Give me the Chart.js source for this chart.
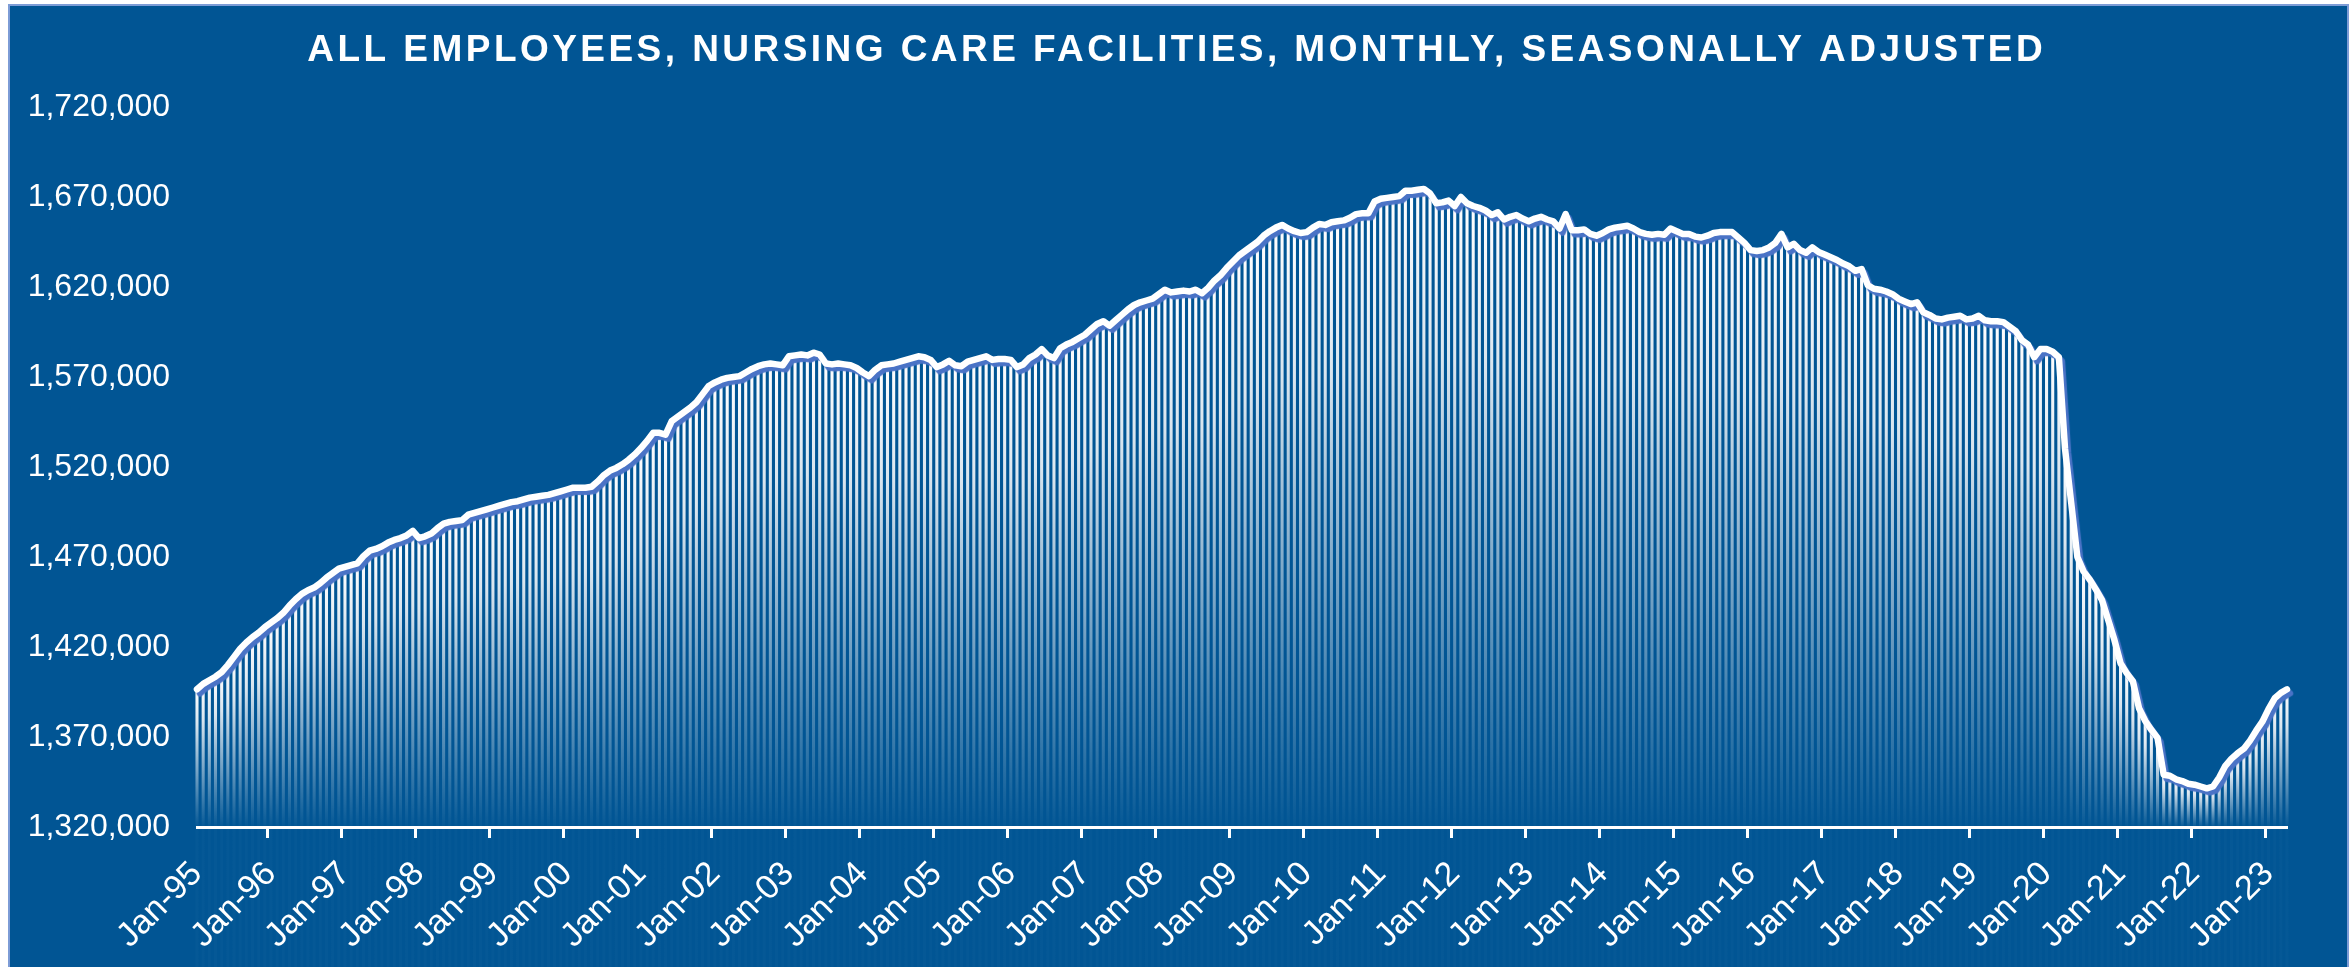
<!DOCTYPE html>
<html>
<head>
<meta charset="utf-8">
<script src="https://cdn.jsdelivr.net/npm/chart.js@4.4.0/dist/chart.umd.min.js"></script>
<style>
html,body{margin:0;padding:0;background:#ffffff;width:2351px;height:967px;overflow:hidden;}
#frame{position:absolute;left:8px;top:4px;width:2341px;height:975px;background:#015594;border:2px solid #7d9cd6;box-sizing:border-box;}
#c{position:absolute;left:0;top:0;}
</style>
</head>
<body>
<div id="frame"></div>
<canvas id="c" width="2351" height="967"></canvas>
<script>
// ---- Data: all employees, nursing care facilities (monthly, SA) ----
const emp1995 = [1396500, 1399500, 1401500, 1403500, 1406000, 1410000, 1414500, 1419000, 1422500, 1425500, 1428000, 1431000];
const emp1996 = [1433500, 1436000, 1439000, 1443000, 1446500, 1449500, 1451500, 1453000, 1455500, 1458500, 1461000, 1463500];
const emp1997 = [1464500, 1465500, 1466500, 1470500, 1473500, 1474500, 1476000, 1478000, 1479500, 1480500, 1482000, 1484500];
const emp1998 = [1480500, 1481500, 1483000, 1486000, 1488500, 1489500, 1490000, 1490500, 1493500, 1494500, 1495500, 1496500];
const emp1999 = [1497500, 1498500, 1499500, 1500500, 1501000, 1502000, 1503000, 1503500, 1504000, 1504500, 1505500, 1506500];
const emp2000 = [1507500, 1508500, 1508500, 1508500, 1509000, 1512000, 1515500, 1518000, 1519500, 1521500, 1524000, 1527000];
const emp2001 = [1530500, 1534500, 1539000, 1539000, 1538000, 1545500, 1548000, 1550500, 1553000, 1556000, 1560500, 1565000];
const emp2002 = [1567000, 1568500, 1569500, 1570000, 1570500, 1572500, 1574500, 1576000, 1577000, 1577500, 1577000, 1576500];
const emp2003 = [1581500, 1582000, 1582500, 1582000, 1583500, 1582500, 1577500, 1577000, 1577500, 1577000, 1576500, 1575000];
const emp2004 = [1572500, 1570500, 1574000, 1576500, 1577000, 1577500, 1578500, 1579500, 1580500, 1581500, 1581000, 1579500];
const emp2005 = [1575500, 1577000, 1579000, 1576500, 1576000, 1578500, 1579500, 1580500, 1581500, 1579500, 1580000, 1580000];
const emp2006 = [1579500, 1575500, 1577000, 1580500, 1582500, 1585500, 1582000, 1580500, 1586000, 1588000, 1589500, 1591500];
const emp2007 = [1593500, 1596500, 1599500, 1601000, 1598500, 1601500, 1604500, 1607500, 1610000, 1611500, 1612500, 1613500];
const emp2008 = [1616000, 1618500, 1617000, 1617500, 1618000, 1617500, 1618500, 1616500, 1619500, 1623500, 1626500, 1630500];
const emp2009 = [1634000, 1637500, 1640000, 1642500, 1645000, 1648500, 1651000, 1653000, 1654500, 1652500, 1651000, 1650000];
const emp2010 = [1650500, 1653000, 1655000, 1654500, 1656000, 1656500, 1657000, 1658500, 1660500, 1661000, 1661000, 1667500];
const emp2011 = [1669000, 1669500, 1670000, 1670500, 1673500, 1673500, 1674000, 1674500, 1672000, 1666500, 1667000, 1668000];
const emp2012 = [1665000, 1670000, 1666500, 1665000, 1664000, 1662500, 1660000, 1661500, 1657500, 1659000, 1660000, 1658000];
const emp2013 = [1656500, 1658000, 1659000, 1657500, 1656500, 1652500, 1660500, 1651500, 1651500, 1652000, 1649500, 1648500];
const emp2014 = [1650000, 1652000, 1653000, 1653500, 1654000, 1652500, 1650500, 1649500, 1649000, 1649500, 1649000, 1652500];
const emp2015 = [1651000, 1649500, 1649500, 1648000, 1647500, 1648500, 1650000, 1650500, 1650500, 1650500, 1647500, 1644500];
const emp2016 = [1640500, 1640000, 1640500, 1642000, 1644500, 1649500, 1642000, 1644000, 1640500, 1639000, 1642000, 1639500];
const emp2017 = [1638000, 1636500, 1635000, 1633000, 1631500, 1629000, 1630000, 1621000, 1619000, 1618500, 1617500, 1616000];
const emp2018 = [1613500, 1612000, 1610500, 1611500, 1606000, 1604500, 1602500, 1602000, 1603000, 1603500, 1604000, 1602000];
const emp2019 = [1602500, 1604000, 1601500, 1601000, 1601000, 1600500, 1598000, 1595500, 1590500, 1588000, 1581000, 1585500];
const emp2020 = [1585500, 1584000, 1581000, 1530000, 1500000, 1470000, 1462000, 1457500, 1452000, 1446000, 1435000, 1424000];
const emp2021 = [1411000, 1405500, 1401000, 1386000, 1379000, 1374000, 1369500, 1349000, 1348500, 1346500, 1345500, 1344000];
const emp2022 = [1343500, 1342500, 1341500, 1342500, 1347500, 1354000, 1358000, 1361000, 1363500, 1368000, 1373500, 1378500];
const emp2023 = [1385500, 1391500, 1394500, 1396500];

const START_YEAR = 1995;
const MONTH_NAMES = ['Jan','Feb','Mar','Apr','May','Jun','Jul','Aug','Sep','Oct','Nov','Dec'];
const Y_MIN = 1320000;
const Y_MAX = 1720000;
const Y_STEP = 50000;
const TITLE = 'ALL EMPLOYEES, NURSING CARE FACILITIES, MONTHLY, SEASONALLY ADJUSTED';

const values = [].concat(emp1995, emp1996, emp1997, emp1998, emp1999, emp2000, emp2001, emp2002,
  emp2003, emp2004, emp2005, emp2006, emp2007, emp2008, emp2009, emp2010, emp2011, emp2012,
  emp2013, emp2014, emp2015, emp2016, emp2017, emp2018, emp2019, emp2020, emp2021, emp2022, emp2023);

const labels = values.map((_, i) => MONTH_NAMES[i % 12] + '-' + String((START_YEAR + Math.floor(i / 12)) % 100).padStart(2, '0'));

// ---- Styling helpers ----
function barGradient(context) {
  const chart = context.chart;
  const area = chart.chartArea;
  if (!area || context.raw == null) return '#ffffff';
  const top = chart.scales.y.getPixelForValue(context.raw);
  const g = chart.ctx.createLinearGradient(0, top, 0, area.bottom);
  g.addColorStop(0, 'rgba(255,255,255,1)');
  g.addColorStop(0.25, 'rgba(255,255,255,0.85)');
  g.addColorStop(1, 'rgba(255,255,255,0.02)');
  return g;
}

const shadowPlugin = {
  id: 'lineShadow',
  beforeDatasetDraw(chart, args) {
    if (args.meta.type === 'line') {
      const c = chart.ctx;
      c.save();
      c.shadowColor = '#4a73c6';
      c.shadowOffsetX = 3;
      c.shadowOffsetY = 4;
      c.shadowBlur = 1;
    }
  },
  afterDatasetDraw(chart, args) {
    if (args.meta.type === 'line') chart.ctx.restore();
  }
};

const titlePlugin = {
  id: 'spacedTitle',
  afterDraw(chart) {
    const c = chart.ctx;
    c.save();
    c.font = 'bold 37px "Liberation Sans", Arial, sans-serif';
    c.fillStyle = '#ffffff';
    c.textBaseline = 'alphabetic';
    c.textAlign = 'center';
    const targetWidth = 1735;
    const base = c.measureText(TITLE).width;
    if ('letterSpacing' in c) {
      const sp = Math.max(0, (targetWidth - base) / (TITLE.length - 1));
      c.letterSpacing = sp.toFixed(2) + 'px';
      c.fillText(TITLE, 1175 + sp / 2, 61);
    } else {
      c.fillText(TITLE, 1175, 61);
    }
    c.restore();
  }
};

new Chart(document.getElementById('c'), {
  data: {
    labels: labels,
    datasets: [
      {
        type: 'line',
        data: values,
        borderColor: '#ffffff',
        borderWidth: 6.5,
        pointRadius: 0,
        tension: 0,
        borderJoinStyle: 'round',
        borderCapStyle: 'round',
        order: 0,
        clip: false
      },
      {
        type: 'bar',
        data: values,
        backgroundColor: barGradient,
        borderWidth: 0,
        barPercentage: 0.5,
        categoryPercentage: 1,
        order: 1,
        clip: false
      }
    ]
  },
  options: {
    responsive: false,
    animation: false,
    devicePixelRatio: 1,
    layout: { padding: { top: 107, right: 64, bottom: 0, left: 0 } },
    plugins: {
      legend: { display: false },
      tooltip: { enabled: false },
      title: { display: false }
    },
    scales: {
      x: {
        type: 'category',
        offset: false,
        grid: {
          display: true,
          drawOnChartArea: false,
          drawTicks: true,
          tickLength: 11,
          tickWidth: 3,
          tickColor: (ctx) => (ctx.index % 12 === 0 ? '#ffffff' : 'rgba(0,0,0,0)')
        },
        border: { display: true, color: '#ffffff', width: 3 },
        ticks: {
          autoSkip: false,
          maxRotation: 45,
          minRotation: 45,
          padding: 16,
          color: '#ffffff',
          font: { family: '"Liberation Sans", Arial, sans-serif', size: 34 },
          callback: function (v, i) { return i % 12 === 0 ? labels[i] : ''; }
        },
        afterFit: (s) => { s.height = 140; }
      },
      y: {
        min: Y_MIN,
        max: Y_MAX,
        grid: { display: false, drawTicks: false },
        border: { display: false },
        ticks: {
          stepSize: Y_STEP,
          padding: 27,
          color: '#ffffff',
          font: { family: '"Liberation Sans", Arial, sans-serif', size: 32 },
          callback: (v) => Number(v).toLocaleString('en-US')
        },
        afterFit: (s) => { s.width = 197; }
      }
    }
  },
  plugins: [shadowPlugin, titlePlugin]
});
</script>
</body>
</html>
